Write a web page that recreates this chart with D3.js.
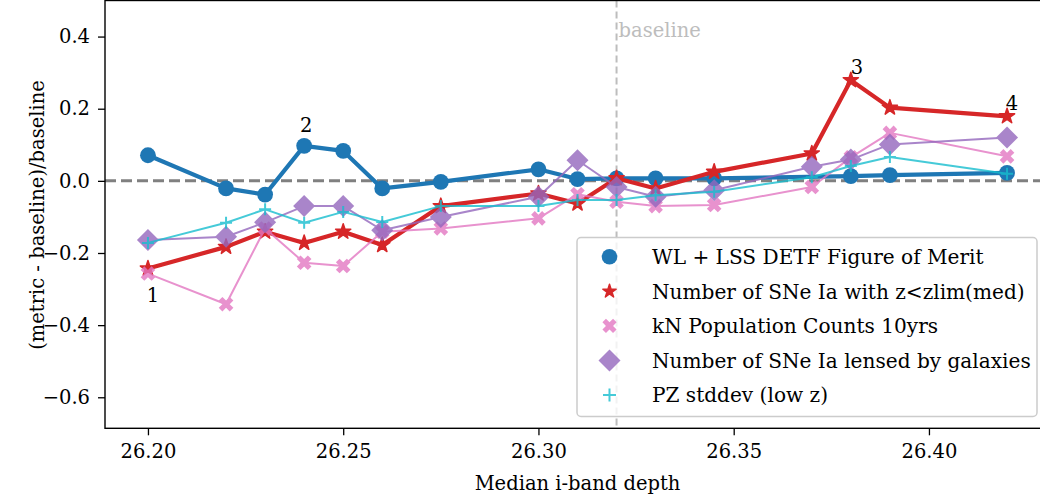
<!DOCTYPE html>
<html>
<head>
<meta charset="utf-8">
<script src="https://cdn.jsdelivr.net/npm/d3@7"></script>
<style>
  html, body { margin: 0; padding: 0; background: #fff; }
  svg { display: block; }
  text { font-family: "DejaVu Serif", serif; }
</style>
</head>
<body>
<svg id="chart" width="1040" height="496"></svg>
<script>
// ---------- data ----------
const depths = [26.20, 26.22, 26.23, 26.24, 26.25, 26.26, 26.275, 26.30, 26.31, 26.32, 26.33, 26.345, 26.37, 26.38, 26.39, 26.42];
const wlLssFom   = [0.071, -0.021, -0.038, 0.097, 0.083, -0.021, -0.003, 0.032, 0.005, 0.007, 0.007, 0.007, null, 0.013, 0.016, 0.022];
const snIaZlim   = [-0.243, -0.183, -0.141, -0.172, -0.141, -0.178, -0.070, -0.035, -0.063, 0.007, -0.021, 0.025, 0.076, 0.279, 0.203, 0.179];
const knCounts   = [-0.257, -0.342, -0.132, -0.227, -0.236, -0.141, -0.132, -0.104, -0.037, -0.058, -0.070, -0.067, -0.017, 0.065, 0.133, 0.068];
const snIaLensed = [-0.164, -0.155, -0.115, -0.070, -0.070, -0.137, -0.100, -0.044, 0.057, -0.017, -0.044, -0.026, 0.039, 0.059, 0.101, 0.120];
const pzStddev   = [-0.172, -0.116, -0.079, -0.116, -0.086, -0.114, -0.070, -0.070, -0.053, -0.053, -0.040, -0.030, 0.010, 0.041, 0.066, 0.020];
const seriesNames = ["WL + LSS DETF Figure of Merit", "Number of SNe Ia with z<zlim(med)", "kN Population Counts 10yrs", "Number of SNe Ia lensed by galaxies", "PZ stddev (low z)"];
const xTicks = [26.20, 26.25, 26.30, 26.35, 26.40];
const yTicks = [-0.6, -0.4, -0.2, 0.0, 0.2, 0.4];
const baselineDepth = 26.32;
const annotations = [
  {label: "1", x: 26.20, y: -0.257},
  {label: "2", x: 26.24, y: 0.097},
  {label: "3", x: 26.38, y: 0.279},
  {label: "4", x: 26.42, y: 0.179}
];

// ---------- layout ----------
const FONT = "'DejaVu Serif', serif";
const FS = 19.5;
const LFS = 20.1;
const svg = d3.select("#chart");
const L = 105, R = 1050, T = 0.5, B = 428.3;
const x = d3.scaleLinear().domain([26.189, 26.431]).range([L, R]);
const y = d3.scaleLinear().domain([-0.686, 0.5]).range([B, T]);

svg.append("defs").append("clipPath").attr("id", "clip")
  .append("rect").attr("x", L).attr("y", T).attr("width", R - L).attr("height", B - T);

function starPath(r) {
  const ri = r * 0.381966, pts = [];
  for (let i = 0; i < 10; i++) {
    const a = -Math.PI / 2 + i * Math.PI / 5;
    const rr = i % 2 === 0 ? r : ri;
    pts.push([rr * Math.cos(a), rr * Math.sin(a)]);
  }
  return "M" + pts.map(p => p.join(",")).join("L") + "Z";
}
function xFilledPath(s) {
  const base = [[-1,-3],[-1,-1],[-3,-1],[-3,1],[-1,1],[-1,3],[1,3],[1,1],[3,1],[3,-1],[1,-1],[1,-3]];
  const c = Math.SQRT1_2;
  const pts = base.map(([a, b]) => { const u = a / 6 * s, v = b / 6 * s; return [(u - v) * c, (u + v) * c]; });
  return "M" + pts.map(p => p.join(",")).join("L") + "Z";
}
function diamondPath(h) { return `M0,${-h}L${h},0L0,${h}L${-h},0Z`; }
function plusPath(h) { return `M${-h},0L${h},0M0,${-h}L0,${h}`; }

const styles = [
  {color: "#1f77b4", lw: 4.2, opacity: 1, marker: "circle", size: 7.9, lsize: 7.8},
  {color: "#d62728", lw: 4.2, opacity: 1, marker: "star", size: 8, lsize: 7},
  {color: "#e377c2", lw: 2, opacity: 0.8, marker: "x", size: 15.5, lsize: 15},
  {color: "#9467bd", lw: 2, opacity: 0.8, marker: "diamond", size: 11, lsize: 11},
  {color: "#17becf", lw: 2, opacity: 0.8, marker: "plus", size: 6, lsize: 6.5}
];
const allSeries = [wlLssFom, snIaZlim, knCounts, snIaLensed, pzStddev];

function drawMarker(g, st, cx, cy, sz) {
  if (st.marker === "circle") {
    g.append("circle").attr("cx", cx).attr("cy", cy).attr("r", sz).attr("fill", st.color);
  } else if (st.marker === "star") {
    g.append("path").attr("d", starPath(sz)).attr("transform", `translate(${cx},${cy})`)
      .attr("fill", st.color).attr("stroke", st.color).attr("stroke-width", 1.5).attr("stroke-linejoin", "round");
  } else if (st.marker === "x") {
    g.append("path").attr("d", xFilledPath(sz)).attr("transform", `translate(${cx},${cy})`).attr("fill", st.color);
  } else if (st.marker === "diamond") {
    g.append("path").attr("d", diamondPath(sz)).attr("transform", `translate(${cx},${cy})`).attr("fill", st.color);
  } else if (st.marker === "plus") {
    g.append("path").attr("d", plusPath(sz)).attr("transform", `translate(${cx},${cy})`)
      .attr("fill", "none").attr("stroke", st.color).attr("stroke-width", 2);
  }
}

const plot = svg.append("g").attr("clip-path", "url(#clip)");

plot.append("line")
  .attr("x1", x(baselineDepth)).attr("x2", x(baselineDepth))
  .attr("y1", T).attr("y2", B)
  .attr("stroke", "#bdbdbd").attr("stroke-width", 2).attr("stroke-dasharray", "7,4");

plot.append("line")
  .attr("x1", L).attr("x2", R).attr("y1", y(0)).attr("y2", y(0))
  .attr("stroke", "#808080").attr("stroke-width", 3).attr("stroke-dasharray", "11,5");

const line = d3.line().x(d => x(d[0])).y(d => y(d[1]));
allSeries.forEach((vals, i) => {
  const st = styles[i];
  const pts = depths.map((d, j) => [d, vals[j]]).filter(p => p[1] !== null);
  const g = plot.append("g").attr("opacity", st.opacity);
  g.append("path").datum(pts).attr("d", line)
    .attr("fill", "none").attr("stroke", st.color).attr("stroke-width", st.lw).attr("stroke-linejoin", "round");
  pts.forEach(p => drawMarker(g, st, x(p[0]), y(p[1]), st.size));
});

svg.append("text").attr("x", x(baselineDepth) + 2).attr("y", 37)
  .attr("font-size", FS).attr("font-family", FONT).attr("fill", "#bdbdbd").text("baseline");

const annOffsets = {"1": [5, 28], "2": [2, -14], "3": [6, -6], "4": [5, -6]};
annotations.forEach(a => {
  const o = annOffsets[a.label];
  svg.append("text").attr("x", x(a.x) + o[0]).attr("y", y(a.y) + o[1])
    .attr("text-anchor", "middle").attr("font-size", FS).attr("font-family", FONT).attr("fill", "#000").text(a.label);
});

const fmtY = v => (v < 0 ? "\u2212" : "") + Math.abs(v).toFixed(1);
const yAxis = svg.append("g").attr("transform", `translate(${L},0)`)
  .call(d3.axisLeft(y).tickValues(yTicks).tickFormat(fmtY).tickSize(7).tickPadding(8));
const xAxis = svg.append("g").attr("transform", `translate(0,${B})`)
  .call(d3.axisBottom(x).tickValues(xTicks).tickFormat(d3.format(".2f")).tickSize(7).tickPadding(9));
[yAxis, xAxis].forEach(a => {
  a.attr("font-family", FONT).attr("font-size", FS);
  a.select(".domain").remove();
  a.selectAll(".tick line").attr("stroke", "#000").attr("stroke-width", 1.3);
  a.selectAll(".tick text").attr("font-size", FS).attr("fill", "#000").attr("font-family", FONT);
});

svg.append("rect").attr("x", L).attr("y", T).attr("width", R - L).attr("height", B - T)
  .attr("fill", "none").attr("stroke", "#000").attr("stroke-width", 1.4);

svg.append("text").attr("x", x(26.31)).attr("y", 490).attr("text-anchor", "middle")
  .attr("font-size", FS).attr("font-family", FONT).text("Median i-band depth");
svg.append("text").attr("transform", `translate(44,215) rotate(-90)`).attr("text-anchor", "middle")
  .attr("font-size", FS).attr("font-family", FONT).text("(metric - baseline)/baseline");

const lg = svg.append("g");
lg.append("rect").attr("x", 577).attr("y", 237.5).attr("width", 460).attr("height", 179)
  .attr("rx", 4).attr("fill", "#fff").attr("fill-opacity", 0.8)
  .attr("stroke", "#cccccc").attr("stroke-width", 1.5);
seriesNames.forEach((name, i) => {
  const cy = 256.7 + i * 34.6;
  const st = styles[i];
  const mg = lg.append("g").attr("opacity", st.opacity);
  drawMarker(mg, st, 609.5, cy, st.lsize);
  lg.append("text").attr("x", 652).attr("y", cy + 7.2).attr("font-size", LFS).attr("font-family", FONT)
    .attr("fill", "#000").text(name);
});
</script>
</body>
</html>
